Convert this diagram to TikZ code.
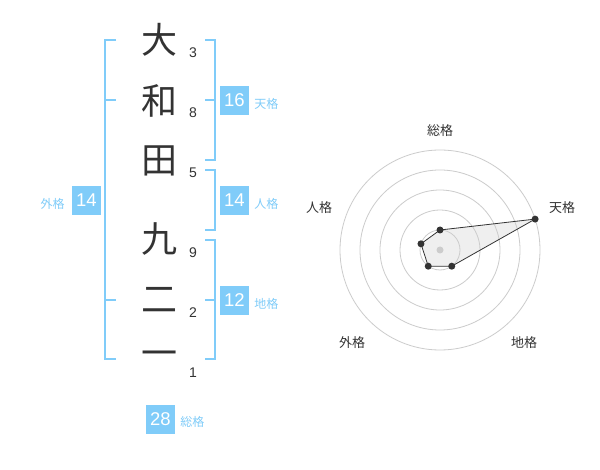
\documentclass[tikz,border=0pt]{standalone}
\usepackage{fontspec}
\setmainfont{Liberation Sans}
\newfontfamily\jpfont{Noto Sans CJK JP}
\usetikzlibrary{positioning,calc}
\definecolor{kakublue}{RGB}{128,204,249}
\definecolor{inkgray}{RGB}{51,51,51}
\definecolor{ringgray}{RGB}{204,204,204}
\definecolor{fillgray}{RGB}{225,225,225}
\tikzset{
 kanji/.style={font=\jpfont\fontsize{36}{36}\selectfont,text=inkgray,inner sep=0},
 strokes/.style={font=\fontsize{14}{14}\selectfont,text=inkgray,inner sep=0},
 kakubox/.style={fill=kakublue,text=white,minimum size=29pt,inner sep=0,font=\fontsize{18.5}{18.5}\selectfont},
 kakuname/.style={text=kakublue,font=\jpfont\fontsize{12}{12}\selectfont,inner sep=0},
 bracket/.style={draw=kakublue,line width=2pt},
 axisname/.style={font=\jpfont\fontsize{13}{13}\selectfont,text=inkgray,inner sep=0},
 ring/.style={draw=ringgray,line width=.8pt},
 vertex/.style={circle,fill=inkgray,inner sep=0,minimum size=7pt},
}
\begin{document}
\begin{tikzpicture}[x=1pt,y=-1pt]
 \useasboundingbox[fill=white] (0,0) rectangle (600,470);
 % name
 \node[kanji] (k1) at (159,40) {大};
 \node[kanji] (k2) at (159,101) {和};
 \node[kanji] (k3) at (159,161) {田};
 \node[kanji] (k4) at (159,239) {九};
 \node[kanji] (k5) at (159,300) {二};
 \node[kanji] (k6) at (159,359) {一};
 \node[strokes] (s1) at (193,53) {3};
 \node[strokes] (s2) at (193,113) {8};
 \node[strokes] (s3) at (193,173) {5};
 \node[strokes] (s4) at (193,253) {9};
 \node[strokes] (s5) at (193,313) {2};
 \node[strokes] (s6) at (193,373) {1};
 % brackets
 \draw[bracket] (116,40)--(105,40)--(105,359)--(116,359);
 \draw[bracket] (105,100)--(116,100) (105,300)--(116,300);
 \draw[bracket] (205,40)--(215,40)--(215,160)--(205,160) (205,100)--(215,100);
 \draw[bracket] (205,170)--(215,170)--(215,230)--(205,230);
 \draw[bracket] (205,240)--(215,240)--(215,359)--(205,359) (205,300)--(215,300);
 % kaku values
 \node[kakubox] (ten) at (234.5,100.5) {16};
 \node[kakuname,right=5pt of ten,yshift=-3pt] (tenname) {天格};
 \node[kakubox] (jin) at (234.5,200.5) {14};
 \node[kakuname,right=5pt of jin,yshift=-3pt] (jinname) {人格};
 \node[kakubox] (chi) at (234.5,300.5) {12};
 \node[kakuname,right=5pt of chi,yshift=-3pt] (chiname) {地格};
 \node[kakubox] (gai) at (86.5,200.5) {14};
 \node[kakuname,left=7pt of gai,yshift=-3pt] (gainame) {外格};
 \node[kakubox] (sou) at (160.5,419) {28};
 \node[kakuname,right=5pt of sou,yshift=-3pt] (souname) {総格};
 % radar
 \coordinate (c) at (440,250);
 \coordinate (psou) at ($(c)+(-90:20)$);
 \coordinate (pten) at ($(c)+(-18:100)$);
 \coordinate (pchi) at ($(c)+(54:20)$);
 \coordinate (pgai) at ($(c)+(126:20)$);
 \coordinate (pjin) at ($(c)+(198:20)$);
 \fill[fillgray,opacity=.5] (psou)--(pten)--(pchi)--(pgai)--(pjin)--cycle;
 \foreach \r in {20,40,...,100}
  \draw[ring] (c) circle[radius=\r pt];
 \fill[ringgray] (c) circle[radius=3.5pt];
 \draw[inkgray,line width=.8pt] (psou)--(pten)--(pchi)--(pgai)--(pjin)--cycle;
 \foreach \p in {psou,pten,pchi,pgai,pjin}
  \node[vertex] at (\p) {};
 \node[axisname] (asou) at (440,131) {総格};
 \node[axisname] (aten) at (562,208) {天格};
 \node[axisname] (ajin) at (319,208) {人格};
 \node[axisname] (agai) at (352,343) {外格};
 \node[axisname] (achi) at (524,343) {地格};
\end{tikzpicture}
\end{document}
